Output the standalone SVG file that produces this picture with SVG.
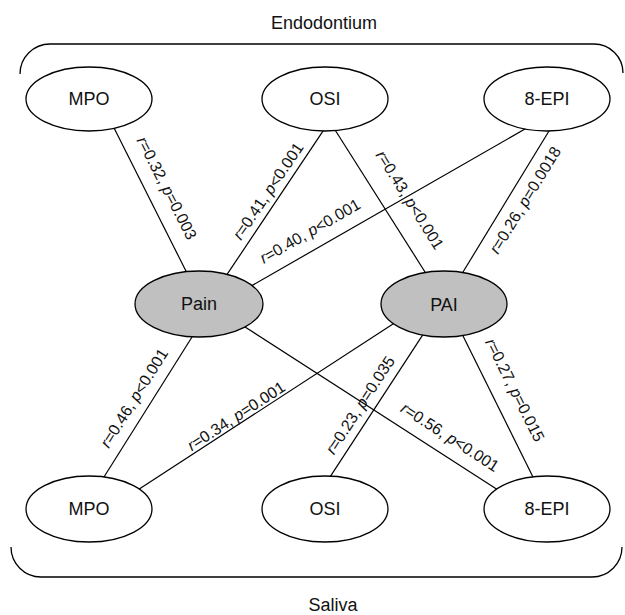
<svg xmlns="http://www.w3.org/2000/svg" width="625" height="615" viewBox="0 0 625 615">
<style>
.n{fill:#fff;stroke:#000;stroke-width:1.3}
.g{fill:#c0c0c0;stroke:#000;stroke-width:1.3}
.t{font-family:"Liberation Sans",Arial,sans-serif;font-size:18px;text-anchor:middle;fill:#111}
.l{font-family:"Liberation Sans",Arial,sans-serif;font-size:16px;text-anchor:middle;fill:#111}
.i{font-style:italic}
.c line{stroke:#000;stroke-width:1.2}
.b{fill:none;stroke:#000;stroke-width:1.3}
</style>
<rect width="625" height="615" fill="#fff"/>
<text class="t" x="324" y="29">Endodontium</text>
<text class="t" x="333" y="611">Saliva</text>
<path class="b" d="M20,74 A30,30 0 0 1 50,44 L594,44 A29,29 0 0 1 623,73"/>
<path class="b" d="M11,547 A30,30 0 0 0 41,577 L592,577 A30,30 0 0 0 622,547"/>
<g id="connectors" class="c">
<line x1="112.8" y1="125.5" x2="188.2" y2="275.5"/>
<line x1="325.8" y1="126.8" x2="225.2" y2="277.2"/>
<line x1="529.3" y1="126.5" x2="247.7" y2="288"/>
<line x1="334.3" y1="128.8" x2="427.7" y2="276.2"/>
<line x1="551.6" y1="126.7" x2="460.4" y2="276.3"/>
<line x1="194.7" y1="332.8" x2="101.3" y2="481.2"/>
<line x1="240.8" y1="324.3" x2="499.2" y2="490.7"/>
<line x1="397.2" y1="321.3" x2="135.8" y2="491.2"/>
<line x1="424.7" y1="331.8" x2="327.3" y2="481.2"/>
<line x1="460.8" y1="331.5" x2="535.2" y2="481.5"/>
</g>
<g id="labels">
<text class="l" transform="translate(167,188) rotate(63)" dy="0.35em"><tspan class="i">r</tspan>=0.32, <tspan class="i">p</tspan>=0.003</text>
<text class="l" transform="translate(268,191) rotate(-56)" dy="0.35em"><tspan class="i">r</tspan>=0.41, <tspan class="i">p</tspan>&lt;0.001</text>
<text class="l" transform="translate(310,231) rotate(-30)" dy="0.35em"><tspan class="i">r</tspan>=0.40, <tspan class="i">p</tspan>&lt;0.001</text>
<text class="l" transform="translate(410,200) rotate(58)" dy="0.35em"><tspan class="i">r</tspan>=0.43, <tspan class="i">p</tspan>&lt;0.001</text>
<text class="l" transform="translate(525,200) rotate(-58.6)" dy="0.35em"><tspan class="i">r</tspan>=0.26, <tspan class="i">p</tspan>=0.0018</text>
<text class="l" transform="translate(134,398) rotate(-58)" dy="0.35em"><tspan class="i">r</tspan>=0.46, <tspan class="i">p</tspan>&lt;0.001</text>
<text class="l" transform="translate(236,416) rotate(-33)" dy="0.35em"><tspan class="i">r</tspan>=0.34, <tspan class="i">p</tspan>=0.001</text>
<text class="l" transform="translate(360,405) rotate(-57)" dy="0.35em"><tspan class="i">r</tspan>=0.23, <tspan class="i">p</tspan>=0.035</text>
<text class="l" transform="translate(450,437) rotate(32.8)" dy="0.35em"><tspan class="i">r</tspan>=0.56, <tspan class="i">p</tspan>&lt;0.001</text>
<text class="l" transform="translate(515,390) rotate(63.6)" dy="0.35em"><tspan class="i">r</tspan>=0.27, <tspan class="i">p</tspan>=0.015</text>
</g>
<g id="endo-mpo"><ellipse class="n" cx="89" cy="99" rx="63" ry="32"/><text class="t" x="89" y="105">MPO</text></g>
<g id="endo-osi"><ellipse class="n" cx="325" cy="99" rx="63" ry="32"/><text class="t" x="325" y="105">OSI</text></g>
<g id="endo-8epi"><ellipse class="n" cx="547" cy="99" rx="63" ry="32"/><text class="t" x="547" y="105">8-EPI</text></g>
<g id="pain"><ellipse class="g" cx="199" cy="304" rx="64" ry="33"/><text class="t" x="199" y="310">Pain</text></g>
<g id="pai"><ellipse class="g" cx="444" cy="304" rx="63" ry="33"/><text class="t" x="444" y="311">PAI</text></g>
<g id="saliva-mpo"><ellipse class="n" cx="89" cy="509" rx="63" ry="33"/><text class="t" x="89" y="515">MPO</text></g>
<g id="saliva-osi"><ellipse class="n" cx="325" cy="509" rx="63" ry="33"/><text class="t" x="325" y="515">OSI</text></g>
<g id="saliva-8epi"><ellipse class="n" cx="547" cy="509" rx="63" ry="33"/><text class="t" x="547" y="515">8-EPI</text></g>
</svg>
